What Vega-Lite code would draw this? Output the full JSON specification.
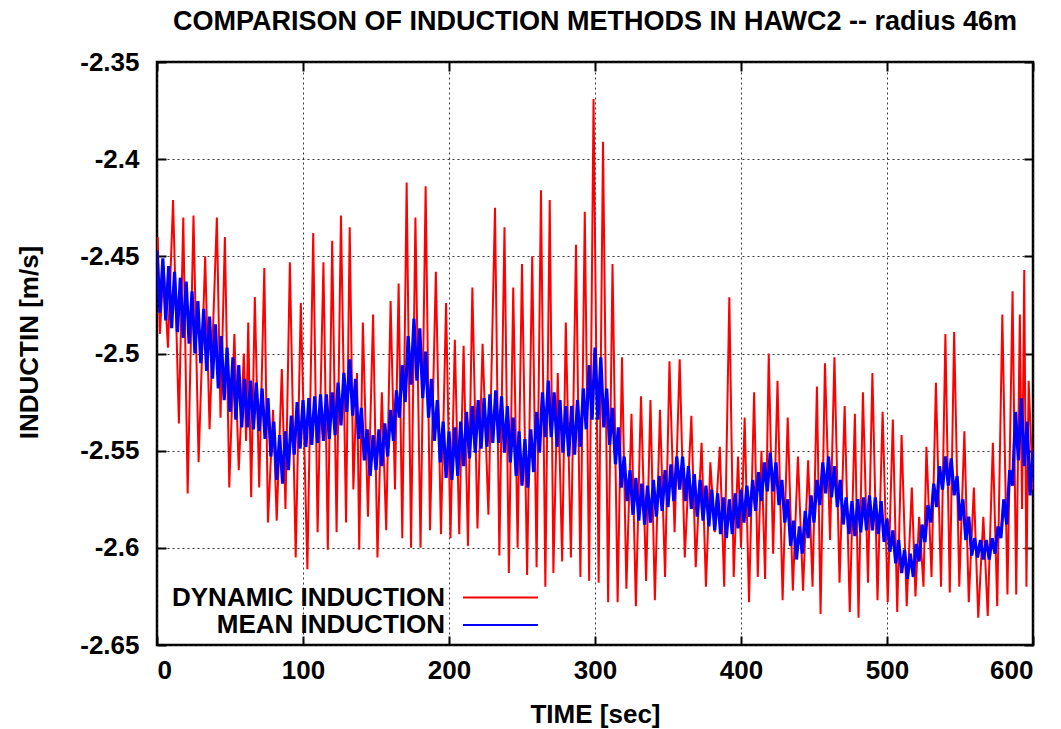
{
  "$schema": "https://vega.github.io/schema/vega-lite/v6.json",
  "autosize": {"type": "none"},
  "padding": {"left": 157, "top": 62, "right": 28, "bottom": 84},
  "width": 876,
  "height": 583,
  "background": "white",
  "title": {"text": "COMPARISON OF INDUCTION METHODS IN HAWC2 -- radius 46m", "fontSize": 27, "fontWeight": "bold", "font": "Liberation Sans", "color": "black", "anchor": "middle", "frame": "group", "offset": 13},
  "config": {
    "font": "Liberation Sans",
    "view": {"stroke": "black", "strokeWidth": 2.5},
    "axis": {"labelFont": "Liberation Sans", "titleFont": "Liberation Sans", "labelFontSize": 26, "labelFontWeight": "bold", "labelColor": "black", "titleFontSize": 26, "titleFontWeight": "bold", "titleColor": "black", "tickColor": "black", "tickWidth": 2, "tickSize": -9, "domain": false, "gridColor": "#222", "gridDash": [2, 3], "gridWidth": 1, "gridOpacity": 0.9}
  },
  "datasets": {
    "red": [
      {"t":0,"v":-2.46},{"t":0.5,"v":-2.44},{"t":2,"v":-2.49},{"t":4.5,"v":-2.455},{"t":7.5,"v":-2.497},{"t":11,"v":-2.421},{"t":15,"v":-2.536},{"t":18,"v":-2.43},{"t":21,"v":-2.572},{"t":25,"v":-2.429},{"t":28.5,"v":-2.556},{"t":33,"v":-2.45},{"t":36,"v":-2.539},{"t":41,"v":-2.43},{"t":43.5,"v":-2.533},{"t":46.5,"v":-2.44},{"t":49.5,"v":-2.569},{"t":53,"v":-2.49},{"t":56,"v":-2.56},{"t":59.5,"v":-2.5},{"t":61,"v":-2.545},{"t":62.5,"v":-2.484},{"t":64.5,"v":-2.574},{"t":67,"v":-2.471},{"t":70,"v":-2.569},{"t":73.5,"v":-2.456},{"t":76,"v":-2.587},{"t":79.5,"v":-2.529},{"t":82,"v":-2.586},{"t":85.5,"v":-2.508},{"t":88,"v":-2.58},{"t":91,"v":-2.453},{"t":95,"v":-2.605},{"t":98.5,"v":-2.474},{"t":103,"v":-2.611},{"t":107,"v":-2.438},{"t":110,"v":-2.592},{"t":114,"v":-2.453},{"t":117,"v":-2.601},{"t":120,"v":-2.442},{"t":123,"v":-2.592},{"t":126,"v":-2.429},{"t":129.5,"v":-2.587},{"t":132,"v":-2.435},{"t":134.5,"v":-2.57},{"t":137,"v":-2.51},{"t":138.5,"v":-2.601},{"t":141,"v":-2.484},{"t":144.5,"v":-2.584},{"t":148,"v":-2.48},{"t":151,"v":-2.605},{"t":154,"v":-2.52},{"t":157,"v":-2.591},{"t":160,"v":-2.473},{"t":163,"v":-2.57},{"t":165.5,"v":-2.464},{"t":168,"v":-2.595},{"t":171,"v":-2.412},{"t":174,"v":-2.6},{"t":177,"v":-2.43},{"t":180.5,"v":-2.6},{"t":184,"v":-2.414},{"t":187,"v":-2.591},{"t":191,"v":-2.458},{"t":194.5,"v":-2.593},{"t":198,"v":-2.474},{"t":201,"v":-2.595},{"t":204,"v":-2.493},{"t":207,"v":-2.593},{"t":210,"v":-2.496},{"t":213,"v":-2.599},{"t":216,"v":-2.466},{"t":219.5,"v":-2.59},{"t":223,"v":-2.495},{"t":227,"v":-2.583},{"t":231.5,"v":-2.425},{"t":234.5,"v":-2.604},{"t":238,"v":-2.435},{"t":241,"v":-2.613},{"t":244,"v":-2.466},{"t":247,"v":-2.6},{"t":250,"v":-2.454},{"t":253.5,"v":-2.614},{"t":257,"v":-2.45},{"t":260,"v":-2.61},{"t":263,"v":-2.416},{"t":266,"v":-2.62},{"t":269,"v":-2.421},{"t":271.5,"v":-2.613},{"t":274.5,"v":-2.51},{"t":277.5,"v":-2.607},{"t":280,"v":-2.484},{"t":283.5,"v":-2.605},{"t":287,"v":-2.444},{"t":290,"v":-2.615},{"t":293,"v":-2.427},{"t":296,"v":-2.617},{"t":299,"v":-2.369},{"t":302.5,"v":-2.618},{"t":305.5,"v":-2.391},{"t":309,"v":-2.628},{"t":312,"v":-2.454},{"t":315.5,"v":-2.628},{"t":318.5,"v":-2.502},{"t":321.5,"v":-2.621},{"t":325,"v":-2.531},{"t":328,"v":-2.63},{"t":331.5,"v":-2.522},{"t":335,"v":-2.617},{"t":338,"v":-2.524},{"t":341,"v":-2.627},{"t":344.5,"v":-2.529},{"t":348,"v":-2.615},{"t":351,"v":-2.504},{"t":354.5,"v":-2.592},{"t":358,"v":-2.503},{"t":361.5,"v":-2.605},{"t":366,"v":-2.532},{"t":369,"v":-2.61},{"t":373,"v":-2.546},{"t":376,"v":-2.62},{"t":379,"v":-2.556},{"t":382,"v":-2.592},{"t":385.5,"v":-2.548},{"t":388.5,"v":-2.62},{"t":392,"v":-2.471},{"t":395,"v":-2.615},{"t":398,"v":-2.553},{"t":400,"v":-2.6},{"t":402.5,"v":-2.533},{"t":405.5,"v":-2.628},{"t":409,"v":-2.52},{"t":411.5,"v":-2.615},{"t":414,"v":-2.55},{"t":416.5,"v":-2.616},{"t":419,"v":-2.5},{"t":422,"v":-2.603},{"t":425,"v":-2.514},{"t":428.5,"v":-2.627},{"t":432,"v":-2.533},{"t":435.5,"v":-2.622},{"t":439,"v":-2.553},{"t":442.5,"v":-2.622},{"t":446,"v":-2.555},{"t":449,"v":-2.62},{"t":452,"v":-2.517},{"t":454.5,"v":-2.634},{"t":457.5,"v":-2.505},{"t":461,"v":-2.596},{"t":464,"v":-2.502},{"t":467.5,"v":-2.618},{"t":471,"v":-2.527},{"t":474.5,"v":-2.633},{"t":478,"v":-2.531},{"t":480.5,"v":-2.636},{"t":483.5,"v":-2.52},{"t":487,"v":-2.618},{"t":490,"v":-2.51},{"t":493.5,"v":-2.627},{"t":497,"v":-2.53},{"t":500.5,"v":-2.628},{"t":504,"v":-2.534},{"t":507,"v":-2.633},{"t":510,"v":-2.542},{"t":513.5,"v":-2.63},{"t":517,"v":-2.569},{"t":519.5,"v":-2.625},{"t":522,"v":-2.584},{"t":525,"v":-2.62},{"t":527,"v":-2.548},{"t":530.5,"v":-2.615},{"t":533.5,"v":-2.515},{"t":537,"v":-2.62},{"t":540,"v":-2.49},{"t":543,"v":-2.623},{"t":546,"v":-2.489},{"t":549.5,"v":-2.62},{"t":553,"v":-2.54},{"t":556,"v":-2.628},{"t":559.5,"v":-2.569},{"t":562.5,"v":-2.636},{"t":566,"v":-2.584},{"t":569,"v":-2.635},{"t":572.5,"v":-2.546},{"t":575.5,"v":-2.63},{"t":579,"v":-2.48},{"t":582.5,"v":-2.624},{"t":586,"v":-2.468},{"t":588.5,"v":-2.624},{"t":591,"v":-2.48},{"t":592.5,"v":-2.58},{"t":594,"v":-2.457},{"t":595.5,"v":-2.62},{"t":597,"v":-2.514},{"t":600,"v":-2.57}
    ],
    "blue": [
      {"t":0,"v":-2.447},{"t":2,"v":-2.479},{"t":4,"v":-2.451},{"t":6,"v":-2.483},{"t":8,"v":-2.455},{"t":10,"v":-2.487},{"t":12,"v":-2.458},{"t":14,"v":-2.489},{"t":16,"v":-2.461},{"t":18,"v":-2.492},{"t":20,"v":-2.463},{"t":22,"v":-2.495},{"t":24,"v":-2.468},{"t":26,"v":-2.5},{"t":28,"v":-2.473},{"t":30,"v":-2.505},{"t":32,"v":-2.477},{"t":34,"v":-2.509},{"t":36,"v":-2.481},{"t":38,"v":-2.513},{"t":40,"v":-2.485},{"t":42,"v":-2.518},{"t":44,"v":-2.491},{"t":46,"v":-2.524},{"t":48,"v":-2.497},{"t":50,"v":-2.53},{"t":52,"v":-2.502},{"t":54,"v":-2.534},{"t":56,"v":-2.506},{"t":58,"v":-2.538},{"t":60,"v":-2.513},{"t":62,"v":-2.538},{"t":64,"v":-2.514},{"t":66,"v":-2.539},{"t":68,"v":-2.515},{"t":70,"v":-2.54},{"t":72,"v":-2.518},{"t":74,"v":-2.544},{"t":76,"v":-2.523},{"t":78,"v":-2.553},{"t":80,"v":-2.535},{"t":82,"v":-2.565},{"t":84,"v":-2.542},{"t":86,"v":-2.567},{"t":88,"v":-2.54},{"t":90,"v":-2.56},{"t":92,"v":-2.532},{"t":94,"v":-2.552},{"t":96,"v":-2.525},{"t":98,"v":-2.549},{"t":100,"v":-2.524},{"t":102,"v":-2.548},{"t":104,"v":-2.523},{"t":106,"v":-2.547},{"t":108,"v":-2.522},{"t":110,"v":-2.546},{"t":112,"v":-2.521},{"t":114,"v":-2.545},{"t":116,"v":-2.521},{"t":118,"v":-2.544},{"t":120,"v":-2.52},{"t":122,"v":-2.542},{"t":124,"v":-2.515},{"t":126,"v":-2.537},{"t":128,"v":-2.51},{"t":130,"v":-2.53},{"t":132,"v":-2.503},{"t":134,"v":-2.532},{"t":136,"v":-2.513},{"t":138,"v":-2.544},{"t":140,"v":-2.528},{"t":142,"v":-2.555},{"t":144,"v":-2.539},{"t":146,"v":-2.563},{"t":148,"v":-2.542},{"t":150,"v":-2.56},{"t":152,"v":-2.539},{"t":154,"v":-2.558},{"t":156,"v":-2.536},{"t":158,"v":-2.553},{"t":160,"v":-2.529},{"t":162,"v":-2.545},{"t":164,"v":-2.519},{"t":166,"v":-2.533},{"t":168,"v":-2.506},{"t":170,"v":-2.525},{"t":172,"v":-2.491},{"t":174,"v":-2.516},{"t":176,"v":-2.482},{"t":178,"v":-2.514},{"t":180,"v":-2.487},{"t":182,"v":-2.523},{"t":184,"v":-2.499},{"t":186,"v":-2.533},{"t":188,"v":-2.513},{"t":190,"v":-2.545},{"t":192,"v":-2.524},{"t":194,"v":-2.556},{"t":196,"v":-2.535},{"t":198,"v":-2.564},{"t":200,"v":-2.54},{"t":202,"v":-2.565},{"t":204,"v":-2.538},{"t":206,"v":-2.563},{"t":208,"v":-2.535},{"t":210,"v":-2.558},{"t":212,"v":-2.53},{"t":214,"v":-2.554},{"t":216,"v":-2.527},{"t":218,"v":-2.551},{"t":220,"v":-2.524},{"t":222,"v":-2.549},{"t":224,"v":-2.523},{"t":226,"v":-2.548},{"t":228,"v":-2.521},{"t":230,"v":-2.546},{"t":232,"v":-2.519},{"t":234,"v":-2.546},{"t":236,"v":-2.522},{"t":238,"v":-2.551},{"t":240,"v":-2.527},{"t":242,"v":-2.556},{"t":244,"v":-2.533},{"t":246,"v":-2.563},{"t":248,"v":-2.54},{"t":250,"v":-2.568},{"t":252,"v":-2.544},{"t":254,"v":-2.569},{"t":256,"v":-2.539},{"t":258,"v":-2.561},{"t":260,"v":-2.53},{"t":262,"v":-2.551},{"t":264,"v":-2.52},{"t":266,"v":-2.543},{"t":268,"v":-2.514},{"t":270,"v":-2.543},{"t":272,"v":-2.52},{"t":274,"v":-2.548},{"t":276,"v":-2.524},{"t":278,"v":-2.551},{"t":280,"v":-2.527},{"t":282,"v":-2.553},{"t":284,"v":-2.527},{"t":286,"v":-2.552},{"t":288,"v":-2.524},{"t":290,"v":-2.548},{"t":292,"v":-2.518},{"t":294,"v":-2.539},{"t":296,"v":-2.506},{"t":298,"v":-2.534},{"t":300,"v":-2.497},{"t":302,"v":-2.534},{"t":304,"v":-2.502},{"t":306,"v":-2.538},{"t":308,"v":-2.518},{"t":310,"v":-2.547},{"t":312,"v":-2.528},{"t":314,"v":-2.557},{"t":316,"v":-2.538},{"t":318,"v":-2.569},{"t":320,"v":-2.553},{"t":322,"v":-2.576},{"t":324,"v":-2.56},{"t":326,"v":-2.583},{"t":328,"v":-2.564},{"t":330,"v":-2.586},{"t":332,"v":-2.567},{"t":334,"v":-2.588},{"t":336,"v":-2.568},{"t":338,"v":-2.587},{"t":340,"v":-2.565},{"t":342,"v":-2.584},{"t":344,"v":-2.563},{"t":346,"v":-2.581},{"t":348,"v":-2.56},{"t":350,"v":-2.579},{"t":352,"v":-2.557},{"t":354,"v":-2.576},{"t":356,"v":-2.553},{"t":358,"v":-2.57},{"t":360,"v":-2.553},{"t":362,"v":-2.576},{"t":364,"v":-2.558},{"t":366,"v":-2.58},{"t":368,"v":-2.562},{"t":370,"v":-2.584},{"t":372,"v":-2.565},{"t":374,"v":-2.586},{"t":376,"v":-2.568},{"t":378,"v":-2.589},{"t":380,"v":-2.57},{"t":382,"v":-2.591},{"t":384,"v":-2.572},{"t":386,"v":-2.593},{"t":388,"v":-2.574},{"t":390,"v":-2.595},{"t":392,"v":-2.575},{"t":394,"v":-2.593},{"t":396,"v":-2.572},{"t":398,"v":-2.59},{"t":400,"v":-2.57},{"t":402,"v":-2.587},{"t":404,"v":-2.568},{"t":406,"v":-2.584},{"t":408,"v":-2.565},{"t":410,"v":-2.581},{"t":412,"v":-2.561},{"t":414,"v":-2.576},{"t":416,"v":-2.556},{"t":418,"v":-2.571},{"t":420,"v":-2.551},{"t":422,"v":-2.571},{"t":424,"v":-2.556},{"t":426,"v":-2.578},{"t":428,"v":-2.565},{"t":430,"v":-2.587},{"t":432,"v":-2.575},{"t":434,"v":-2.599},{"t":436,"v":-2.586},{"t":438,"v":-2.606},{"t":440,"v":-2.589},{"t":442,"v":-2.603},{"t":444,"v":-2.581},{"t":446,"v":-2.595},{"t":448,"v":-2.573},{"t":450,"v":-2.587},{"t":452,"v":-2.565},{"t":454,"v":-2.578},{"t":456,"v":-2.556},{"t":458,"v":-2.572},{"t":460,"v":-2.553},{"t":462,"v":-2.574},{"t":464,"v":-2.558},{"t":466,"v":-2.579},{"t":468,"v":-2.565},{"t":470,"v":-2.588},{"t":472,"v":-2.574},{"t":474,"v":-2.593},{"t":476,"v":-2.576},{"t":478,"v":-2.594},{"t":480,"v":-2.575},{"t":482,"v":-2.592},{"t":484,"v":-2.574},{"t":486,"v":-2.591},{"t":488,"v":-2.573},{"t":490,"v":-2.591},{"t":492,"v":-2.574},{"t":494,"v":-2.593},{"t":496,"v":-2.576},{"t":498,"v":-2.597},{"t":500,"v":-2.585},{"t":502,"v":-2.602},{"t":504,"v":-2.591},{"t":506,"v":-2.608},{"t":508,"v":-2.596},{"t":510,"v":-2.613},{"t":512,"v":-2.601},{"t":514,"v":-2.616},{"t":516,"v":-2.603},{"t":518,"v":-2.615},{"t":520,"v":-2.598},{"t":522,"v":-2.607},{"t":524,"v":-2.588},{"t":526,"v":-2.597},{"t":528,"v":-2.578},{"t":530,"v":-2.587},{"t":532,"v":-2.567},{"t":534,"v":-2.579},{"t":536,"v":-2.558},{"t":538,"v":-2.57},{"t":540,"v":-2.553},{"t":542,"v":-2.568},{"t":544,"v":-2.554},{"t":546,"v":-2.573},{"t":548,"v":-2.563},{"t":550,"v":-2.586},{"t":552,"v":-2.575},{"t":554,"v":-2.596},{"t":556,"v":-2.584},{"t":558,"v":-2.604},{"t":560,"v":-2.595},{"t":562,"v":-2.605},{"t":564,"v":-2.596},{"t":566,"v":-2.606},{"t":568,"v":-2.596},{"t":570,"v":-2.606},{"t":572,"v":-2.595},{"t":574,"v":-2.603},{"t":576,"v":-2.589},{"t":578,"v":-2.595},{"t":580,"v":-2.575},{"t":582,"v":-2.588},{"t":584,"v":-2.56},{"t":586,"v":-2.568},{"t":588,"v":-2.53},{"t":590,"v":-2.555},{"t":592,"v":-2.523},{"t":594,"v":-2.558},{"t":596,"v":-2.535},{"t":598,"v":-2.573},{"t":600,"v":-2.55}
    ]
  },
  "layer": [
    {
      "data": {"name": "red"},
      "mark": {"type": "line", "strokeWidth": 2, "clip": true},
      "encoding": {
        "x": {"field": "t", "type": "quantitative", "scale": {"domain": [0, 600], "nice": false},
          "axis": {"orient": "bottom", "values": [0, 100, 200, 300, 400, 500, 600], "grid": true, "title": "TIME [sec]", "labelPadding": 21, "titlePadding": 18}},
        "y": {"field": "v", "type": "quantitative", "scale": {"domain": [-2.65, -2.35], "nice": false, "zero": false},
          "axis": {"orient": "left", "values": [-2.65, -2.6, -2.55, -2.5, -2.45, -2.4, -2.35], "grid": true, "title": "INDUCTIN [m/s]", "titleY": 280, "labelExpr": "'' + datum.value", "labelPadding": 27, "titlePadding": 37}},
        "color": {"datum": "DYNAMIC INDUCTION", "type": "nominal",
          "scale": {"domain": ["DYNAMIC INDUCTION", "MEAN INDUCTION"], "range": ["#ff0000", "#0000ff"]},
          "legend": {"orient": "none", "legendX": 330, "legendY": 522, "title": null, "symbolType": "M-3,0H3", "symbolSize": 625, "symbolStrokeWidth": 1.8, "symbolFillColor": "transparent", "labelFontSize": 26, "labelFontWeight": "bold", "labelFont": "Liberation Sans", "labelColor": "black", "labelLimit": 0, "labelAlign": "right", "labelOffset": -69, "rowPadding": 0.5, "padding": 0,
            "encode": {"symbols": {"update": {"strokeWidth": {"value": 1.8}}}}}}
      }
    },
    {
      "data": {"name": "blue"},
      "mark": {"type": "line", "strokeWidth": 3.2, "clip": true},
      "encoding": {
        "x": {"field": "t", "type": "quantitative", "axis": {"orient": "top", "values": [0, 100, 200, 300, 400, 500, 600], "grid": false, "labels": false, "title": null}},
        "y": {"field": "v", "type": "quantitative", "axis": {"orient": "right", "values": [-2.65, -2.6, -2.55, -2.5, -2.45, -2.4, -2.35], "grid": false, "labels": false, "title": null}},
        "color": {"datum": "MEAN INDUCTION", "type": "nominal"}
      }
    }
  ],
  "resolve": {"axis": {"x": "independent", "y": "independent"}}
}
